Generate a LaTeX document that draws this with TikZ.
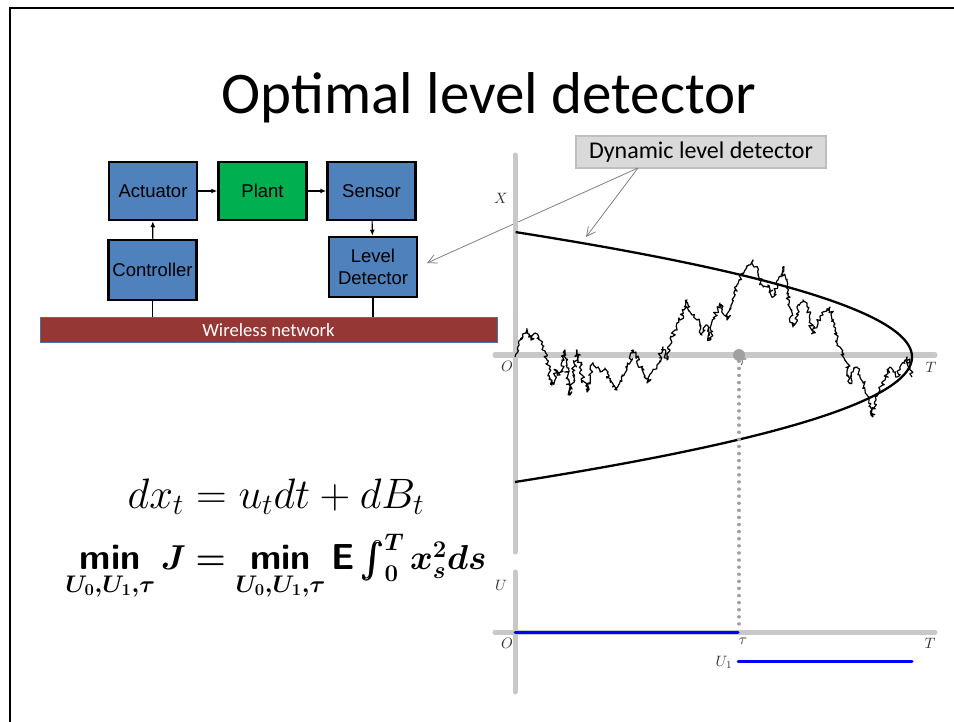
\documentclass[tikz,border=0pt]{standalone}
\usepackage{amsmath,bm}
\usepackage{fontspec}
\newfontfamily\carlito{Carlito}
\newfontfamily\arialike{Liberation Sans}
\usetikzlibrary{arrows.meta,decorations.pathmorphing,calc}
\definecolor{boxblue}{HTML}{4F81BD}
\definecolor{plantgreen}{HTML}{00B050}
\definecolor{netred}{HTML}{953735}
\definecolor{netborder}{HTML}{4A6FA5}
\definecolor{callgray}{HTML}{D9D9D9}
\definecolor{callborder}{HTML}{BFBFBF}
\definecolor{axisgray}{HTML}{C8C8C8}
\definecolor{dotgray}{HTML}{A0A0A0}
\definecolor{labgray}{HTML}{333333}
\newcommand{\mymin}{\mathop{\textsf{\bfseries min}}\limits}
\newcommand{\costeq}{\ensuremath{\bm{\mymin_{U_0,U_1,\tau} J = \mymin_{U_0,U_1,\tau} \textsf{\bfseries E}\int_0^T x_s^2 ds}}}
\begin{document}
\begin{tikzpicture}[x=1pt,y=-1pt,
  blockbox/.style={draw=black, line width=2.5pt, fill=boxblue, minimum width=88pt, minimum height=58pt, inner sep=1pt, align=center, font=\arialike\fontsize{18.5}{22}\selectfont},
  conn/.style={line width=1.2pt, -{Latex[length=6pt,width=5pt]}},
  link/.style={line width=1.6pt},
  axis/.style={axisgray, line width=5pt, line cap=round},
  lab/.style={text=labgray, inner sep=0pt, scale=1.5},
  callarrow/.style={gray, line width=0.8pt, -{Straight Barb[length=9pt,width=9pt]}},
  uline/.style={blue, line width=3pt, line cap=round}]
\useasboundingbox (0,0) rectangle (954,722);
\draw[line width=2.5pt] (10,722) -- (10,8) -- (954,8);

% title
\node (title) at (489,98) {\carlito\fontsize{59}{64}\selectfont Optimal level detector};

% block diagram
\node[blockbox] (act) at (153,191) {Actuator};
\node[blockbox, fill=plantgreen] (plant) at (262.5,191) {Plant};
\node[blockbox] (sens) at (371.5,191) {Sensor};
\node[blockbox, minimum height=60pt] (ctrl) at (152.5,270) {Controller};
\node[blockbox, minimum height=60pt] (ld) at (373,267) {Level\\Detector};
\node[draw=netborder, line width=1pt, fill=netred, minimum width=457pt, minimum height=25pt, inner sep=0pt,
      text=white, font=\carlito\fontsize{18.7}{20}\selectfont] (net) at (268.5,330.5) {Wireless network};
\draw[conn] (act) -- (plant);
\draw[conn] (plant) -- (sens);
\draw[conn] (ctrl) -- (act);
\draw[conn] (sens) -- (ld);
\draw[link] (ctrl.south) -- (ctrl.south |- net.north);
\draw[link] (ld.south) -- (ld.south |- net.north);

% callout
\node[draw=callborder, line width=1.5pt, fill=callgray, minimum width=250pt, minimum height=32pt, inner sep=0pt,
      font=\carlito\fontsize{24}{26}\selectfont] (call) at (701,152) {Dynamic level detector};
\coordinate (cs) at (638,168);
\coordinate (tgtA) at (427,263);
\coordinate (tgtB) at (586,237);
\draw[callarrow] (cs) -- (tgtA);
\draw[callarrow] (cs) -- (tgtB);

% upper plot axes
\draw[axis] (515,155) -- (515,552);
\draw[axis] (495,355) -- (935,355);
\node[lab] (lX) at (501,198) {$X$};
\node[lab] (lO) at (507,366) {$O$};
\node[lab] (lT) at (931,367) {$T$};
\node[lab] (ltau) at (743,362) {$\tau$};

% boundary curve
\draw[line width=2.3pt] plot[domain=-1:1, samples=120, smooth] ({912-397*\x*\x},{357-125*\x});

% brownian path
\pgfmathsetseed{11}
\draw[line width=1.2pt, line join=round, decorate, decoration={random steps, segment length=1.7pt, amplitude=2.4pt}]
 (515,357) -- (519,345) -- (523,337) -- (527,330) -- (531,340) -- (535,333) -- (539,338) -- (543,347) -- (547,360) -- (552,385)
 -- (556,370) -- (560,375) -- (565,350) -- (568,380) -- (570,395) -- (574,370) -- (577,350) -- (582,375) -- (587,392) -- (590,375)
 -- (593,363) -- (600,372) -- (605,368) -- (610,380) -- (617,390) -- (622,375) -- (627,368) -- (633,350) -- (638,360) -- (643,372)
 -- (647,383) -- (652,372) -- (657,365) -- (663,347) -- (667,360) -- (670,345) -- (675,330) -- (680,320) -- (684,310) -- (687,300)
 -- (692,315) -- (697,320) -- (702,335) -- (706,325) -- (710,340) -- (714,318) -- (720,303) -- (724,315) -- (727,320) -- (731,305)
 -- (735,290) -- (740,277) -- (745,270) -- (749,265) -- (753,260) -- (758,275) -- (763,287) -- (768,285) -- (773,297) -- (778,280)
 -- (783,267) -- (788,295) -- (793,327) -- (798,310) -- (803,300) -- (807,303) -- (810,320) -- (813,333) -- (818,322) -- (823,312)
 -- (830,307) -- (834,325) -- (837,343) -- (842,352) -- (847,363) -- (850,383) -- (853,372) -- (857,367) -- (860,375) -- (863,383)
 -- (867,395) -- (870,405) -- (873,417) -- (876,400) -- (880,390) -- (885,380) -- (890,367) -- (893,372) -- (897,377) -- (901,365)
 -- (905,360) -- (907,357) -- (910,368) -- (912,377);

% stopping time marker
\node[circle, fill=dotgray, minimum size=12pt, inner sep=0pt] (taudot) at (739,355) {};
\coordinate (taulow) at (739,628);
\draw[dotgray, line width=3.4pt, line cap=round, dash pattern=on 0.1pt off 7pt] (taudot) -- (taulow);

% lower plot
\draw[axis] (515,572) -- (515,692);
\draw[axis] (495,632) -- (935,632);
\node[lab] (lU) at (501,585) {$U$};
\node[lab] (lO2) at (507,643) {$O$};
\node[lab] (ltau2) at (743,641) {$\tau$};
\node[lab] (lT2) at (930,643) {$T$};
\node[lab] (lU1) at (724,662) {$U_1$};
\coordinate (u0a) at (515,632);
\coordinate (u0b) at (738,632);
\coordinate (u1a) at (738,661);
\coordinate (u1b) at (912,661);
\draw[uline] (u0a) -- (u0b);
\draw[uline] (u1a) -- (u1b);

% equations
\node[scale=1.71] (eq1) at (276,497) {\fontsize{26}{30}\selectfont $dx_t = u_t dt + dB_t$};
\node[scale=1.39] (eq2) at (276,567) {\fontsize{26}{30}\selectfont \costeq};
\end{tikzpicture}
\end{document}
